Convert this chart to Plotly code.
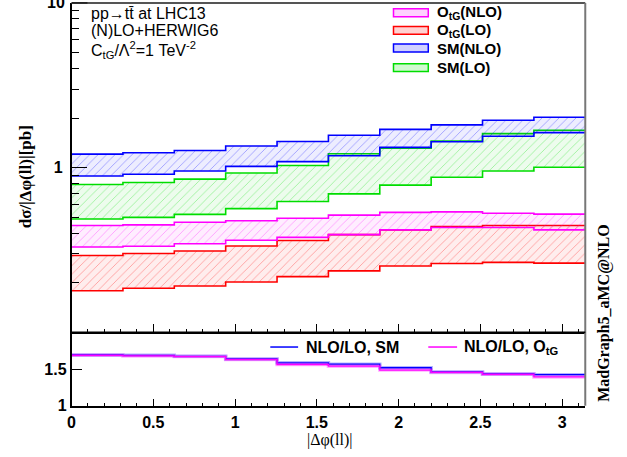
import numpy as np
import plotly.graph_objects as go

# ---------------- data ----------------
nbins = 10
xlo, xhi = 0.0, np.pi
edges = np.linspace(xlo, xhi, nbins + 1)

sm_nlo_up = [1.207, 1.230, 1.270, 1.354, 1.441, 1.573, 1.707, 1.819, 1.939, 2.022]
sm_nlo_dn = [0.889, 0.911, 0.953, 1.018, 1.087, 1.181, 1.328, 1.436, 1.551, 1.631]
sm_lo_up = [0.790, 0.812, 0.851, 0.927, 1.030, 1.214, 1.310, 1.449, 1.609, 1.685]
sm_lo_dn = [0.488, 0.499, 0.520, 0.564, 0.623, 0.693, 0.783, 0.874, 0.953, 1.006]
otg_nlo_up = [0.445, 0.449, 0.466, 0.476, 0.493, 0.515, 0.535, 0.539, 0.529, 0.522]
otg_nlo_dn = [0.330, 0.333, 0.345, 0.362, 0.377, 0.392, 0.419, 0.433, 0.433, 0.419]
otg_lo_up = [0.293, 0.301, 0.312, 0.334, 0.361, 0.392, 0.419, 0.439, 0.445, 0.445]
otg_lo_dn = [0.179, 0.185, 0.191, 0.202, 0.218, 0.236, 0.253, 0.262, 0.266, 0.263]

ratio_sm = [1.692, 1.6875, 1.674, 1.638, 1.585, 1.567, 1.518, 1.460, 1.433, 1.424]
ratio_otg = [1.6875, 1.679, 1.670, 1.629, 1.5625, 1.540, 1.487, 1.455, 1.429, 1.393]

legend_labels = ["O<sub>tG</sub>(NLO)", "O<sub>tG</sub>(LO)", "SM(NLO)", "SM(LO)"]
ratio_labels = ["NLO/LO, SM", "NLO/LO, O<sub>tG</sub>"]
x_tick_vals = [0, 0.5, 1, 1.5, 2, 2.5, 3]
x_tick_text = ["0", "0.5", "1", "1.5", "2", "2.5", "3"]

# ---------------- layout helpers ----------------
W, H = 627, 457
def px(x):
    return x / W
def py(y):
    return 1 - y / H

X0, X1 = 68, 585
MAIN_T, MAIN_B = 3, 339
RAT_T, RAT_B = 339, 414

BLUE, GREEN, MAG, RED = "#0000ff", "#00dd00", "#ff00ff", "#ff0000"
SANS = "Liberation Sans"
SERIF = "Liberation Serif"

def rgba(hexc, a):
    h = hexc.lstrip("#")
    r, g, b = int(h[0:2], 16), int(h[2:4], 16), int(h[4:6], 16)
    return f"rgba({r},{g},{b},{a})"

fig = go.Figure()

def step(vals):
    return list(vals) + [vals[-1]]

def band(lo, hi, color):
    fig.add_trace(go.Scatter(
        x=edges, y=step(lo), mode="lines",
        line=dict(color=color, width=1.6, shape="hv"),
        xaxis="x", yaxis="y", showlegend=False, hoverinfo="skip"))
    fig.add_trace(go.Scatter(
        x=edges, y=step(hi), mode="lines",
        line=dict(color=color, width=1.6, shape="hv"),
        fill="tonexty", fillcolor=rgba(color, 0.07),
        fillpattern=dict(shape="/", fgcolor=color, fgopacity=0.5,
                         bgcolor=rgba(color, 0.07), size=6, solidity=0.1),
        xaxis="x", yaxis="y", showlegend=False, hoverinfo="skip"))

band(sm_lo_dn, sm_lo_up, GREEN)
band(sm_nlo_dn, sm_nlo_up, BLUE)
band(otg_lo_dn, otg_lo_up, RED)
band(otg_nlo_dn, otg_nlo_up, MAG)

# ratio panel
for vals, col in ((ratio_sm, BLUE), (ratio_otg, MAG)):
    fig.add_trace(go.Scatter(
        x=edges, y=step(vals), mode="lines",
        line=dict(color=rgba(col, 0.3), width=3.5, shape="hv"),
        xaxis="x2", yaxis="y2", showlegend=False, hoverinfo="skip"))
    fig.add_trace(go.Scatter(
        x=edges, y=step(vals), mode="lines",
        line=dict(color=col, width=1.3, shape="hv"),
        xaxis="x2", yaxis="y2", showlegend=False, hoverinfo="skip"))

tickfont = dict(family=SANS, size=16, color="black", weight="bold")
dom_x = [px(X0), px(X1)]

fig.update_layout(
    width=W, height=H,
    margin=dict(l=0, r=0, t=0, b=0),
    paper_bgcolor="white", plot_bgcolor="white",
    showlegend=False,
    xaxis=dict(domain=dom_x, anchor="y", range=[xlo, xhi],
               showticklabels=False, ticks="inside", ticklen=9, tickwidth=1,
               tickcolor="black", tickvals=x_tick_vals,
               minor=dict(dtick=0.1, tick0=0, ticks="inside", ticklen=4,
                          tickcolor="black", showgrid=False),
               showline=True, linecolor="black", linewidth=1.5,
               showgrid=False, zeroline=False),
    yaxis=dict(domain=[py(MAIN_B), py(MAIN_T)], anchor="x", type="log",
               range=[-1, 1], tickvals=[1], ticktext=["1"],
               ticks="inside", ticklen=16, tickwidth=1, tickcolor="black",
               tickfont=tickfont, ticklabelstandoff=4,
               minor=dict(tickvals=[0.2, 0.3, 0.4, 0.5, 0.6, 0.7, 0.8, 0.9,
                                    2, 3, 4, 5, 6, 7, 8, 9],
                          ticks="inside", ticklen=8, tickcolor="black",
                          showgrid=False),
               showline=True, linecolor="black", linewidth=1.5,
               showgrid=False, zeroline=False),
    xaxis2=dict(domain=dom_x, anchor="y2", range=[xlo, xhi],
                tickvals=x_tick_vals, ticktext=x_tick_text, tickfont=tickfont,
                ticks="inside", ticklen=7, tickwidth=1, tickcolor="black",
                ticklabelstandoff=1,
                minor=dict(dtick=0.1, tick0=0, ticks="inside", ticklen=3,
                           tickcolor="black", showgrid=False),
                showline=True, linecolor="black", linewidth=1.5,
                showgrid=False, zeroline=False),
    yaxis2=dict(domain=[py(RAT_B), py(RAT_T)], anchor="x2", range=[1, 2],
                tickvals=[1, 1.5], ticktext=["1", "1.5"], tickfont=tickfont,
                ticks="inside", ticklen=11, tickwidth=1, tickcolor="black",
                showline=True, linecolor="black", linewidth=1.5,
                showgrid=False, zeroline=False),
)

shapes = []
ann = []
# frame top/right edges (grey)
shapes.append(dict(type="line", xref="paper", yref="paper", x0=px(X0), x1=px(X1),
                   y0=py(MAIN_T), y1=py(MAIN_T), line=dict(color="#555", width=2)))
shapes.append(dict(type="line", xref="paper", yref="paper", x0=px(X1), x1=px(X1),
                   y0=py(MAIN_T), y1=py(RAT_B), line=dict(color="#777", width=2)))
shapes.append(dict(type="line", xref="paper", yref="paper", x0=px(X0), x1=px(X1),
                   y0=py(RAT_T), y1=py(RAT_T), line=dict(color="black", width=1.5)))
# major tick at 10 (top of the log axis)
shapes.append(dict(type="line", xref="paper", yref="paper", x0=px(X0), x1=px(X0 + 16),
                   y0=py(MAIN_T), y1=py(MAIN_T), line=dict(color="black", width=1)))

# partially cut "10" label at the top of the log axis
ann.append(dict(text="10", x=px(X0 - 5), y=py(MAIN_T), xref="paper", yref="paper",
                xanchor="right", yanchor="middle", showarrow=False,
                font=tickfont))

# info text
info = ["pp\u2192tt\u0304 at LHC13", "(N)LO+HERWIG6",
        "C<sub>tG</sub>/\u039b<sup>2</sup>=1 TeV<sup>-2</sup>"]
for txt, yy in zip(info, [14, 31, 51]):
    ann.append(dict(text=txt, x=px(86), y=py(yy), xref="paper", yref="paper",
                    xanchor="left", yanchor="middle", showarrow=False,
                    font=dict(family=SANS, size=16, color="black")))

# main legend (manual)
leg_cols = [MAG, RED, BLUE, GREEN]
leg_y = [13, 31, 49, 69]
for lab, col, yy in zip(legend_labels, leg_cols, leg_y):
    shapes.append(dict(type="rect", xref="paper", yref="paper",
                       x0=px(392), x1=px(427), y0=py(yy - 4), y1=py(yy + 4),
                       line=dict(color=col, width=1.5), fillcolor=rgba(col, 0.18)))
    ann.append(dict(text=lab, x=px(434), y=py(yy), xref="paper", yref="paper",
                    xanchor="left", yanchor="middle", showarrow=False,
                    font=dict(family=SANS, size=15, color="black", weight="bold")))

# ratio legend
for lab, col, xs, xt in zip(ratio_labels, [BLUE, MAG], [(268, 296), (427, 456)], [302, 461]):
    shapes.append(dict(type="line", xref="paper", yref="paper",
                       x0=px(xs[0]), x1=px(xs[1]), y0=py(354), y1=py(354),
                       line=dict(color=col, width=1.5)))
    ann.append(dict(text=lab, x=px(xt), y=py(354), xref="paper", yref="paper",
                    xanchor="left", yanchor="middle", showarrow=False,
                    font=dict(family=SANS, size=16, color="black", weight="bold")))

# axis titles
ann.append(dict(text="d\u03c3/|\u0394\u03c6(ll)|[pb]", x=px(22), y=py(180),
                xref="paper", yref="paper", textangle=-90, showarrow=False,
                xanchor="center", yanchor="middle",
                font=dict(family=SERIF, size=17, color="black", weight="bold")))
ann.append(dict(text="|\u0394\u03c6(ll)|", x=px(328), y=py(449),
                xref="paper", yref="paper", showarrow=False,
                xanchor="center", yanchor="middle",
                font=dict(family=SERIF, size=16, color="black")))
ann.append(dict(text="MadGraph5_aMC@NLO", x=px(604), y=py(319),
                xref="paper", yref="paper", textangle=-90, showarrow=False,
                xanchor="center", yanchor="middle",
                font=dict(family=SERIF, size=16, color="black", weight="bold")))

fig.update_layout(shapes=shapes, annotations=ann)
fig.write_html("out.html")
